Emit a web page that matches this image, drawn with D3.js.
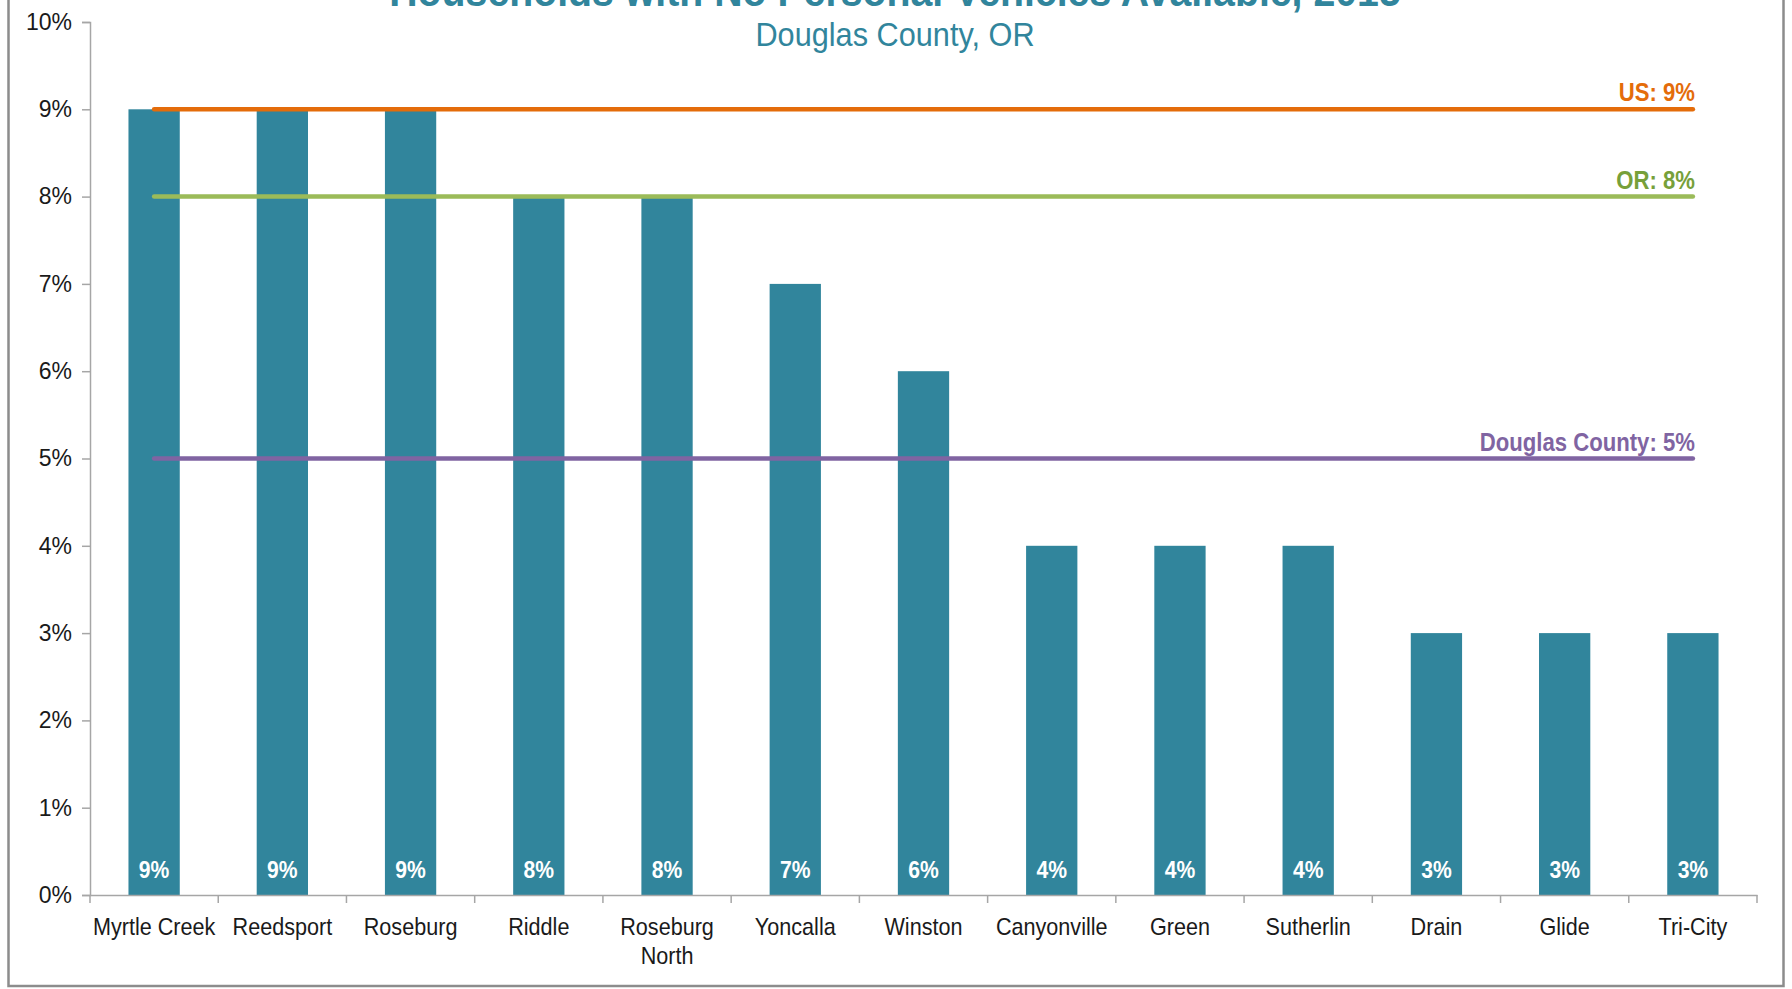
<!DOCTYPE html>
<html>
<head>
<meta charset="utf-8">
<script src="https://cdn.jsdelivr.net/npm/d3@7"></script>
<style>
  html, body { margin: 0; padding: 0; background: #fff; }
  svg { display: block; }
</style>
</head>
<body>
<svg id="chart" width="1792" height="989"></svg>
<script>
const categories = ["Myrtle Creek", "Reedsport", "Roseburg", "Riddle", "Roseburg North", "Yoncalla", "Winston", "Canyonville", "Green", "Sutherlin", "Drain", "Glide", "Tri-City"];
const values = [9, 9, 9, 8, 8, 7, 6, 4, 4, 4, 3, 3, 3];
const refNames = ["US", "OR", "Douglas County"];
const refValues = [9, 8, 5];
const refColors = ["#E46C0A", "#9BBB59", "#8064A2"];
const refLabelColors = ["#E46C0A", "#77A03A", "#8064A2"];
const yTicks = [0, 1, 2, 3, 4, 5, 6, 7, 8, 9, 10];
const titleText = "Households with No Personal Vehicles Available, 2015";
const subtitleText = "Douglas County, OR";

const arial = "'Liberation Sans', Arial, sans-serif";
const barColor = "#31859C";

const svg = d3.select("#chart");

// helper: narrow text (Liberation Sans squeezed horizontally)
function narrowText(parent, cx, cy, str, opts) {
  return parent.append("text")
    .attr("transform", `translate(${cx},${cy}) scale(${opts.sx || 0.9},1)`)
    .attr("x", 0).attr("y", 0)
    .attr("text-anchor", opts.anchor || "middle")
    .attr("font-family", arial)
    .attr("font-size", opts.size)
    .attr("font-weight", opts.weight || "normal")
    .attr("fill", opts.fill)
    .text(str);
}

// frame
svg.append("rect")
  .attr("x", 8.5).attr("y", -20).attr("width", 1775).attr("height", 1006)
  .attr("fill", "none").attr("stroke", "#8c8c8c").attr("stroke-width", 2.5);

const x = d3.scaleBand().domain(categories).range([90, 1757]).padding(0);
const y = d3.scaleLinear().domain([0, 10]).range([895, 22]);
const barW = x.bandwidth() * 0.40;

// title (cut off at the top as in the reference)
narrowText(svg, 895, 6, titleText, { size: 42, sx: 0.935, weight: "bold", fill: barColor });
narrowText(svg, 895, 46, subtitleText, { size: 33, sx: 0.93, fill: barColor });

// y axis
const yAxis = svg.append("g")
  .attr("transform", "translate(90,0)")
  .call(d3.axisLeft(y).tickValues(yTicks).tickFormat(d => d + "%").tickSize(8).tickPadding(10));
yAxis.select(".domain").attr("stroke", "#a6a6a6").attr("stroke-width", 1.5);
yAxis.selectAll(".tick line").attr("stroke", "#a6a6a6").attr("stroke-width", 1.5);
yAxis.selectAll(".tick text")
  .attr("font-family", arial).attr("font-size", 23).attr("fill", "#1a1a1a");

// bars
svg.append("g").selectAll("rect")
  .data(categories)
  .join("rect")
  .attr("x", (d) => x(d) + x.bandwidth() / 2 - barW / 2)
  .attr("y", (d, i) => y(values[i]))
  .attr("width", barW)
  .attr("height", (d, i) => y(0) - y(values[i]))
  .attr("fill", barColor);

// x axis
const xAxis = svg.append("g")
  .attr("transform", "translate(0,895)")
  .call(d3.axisBottom(x).tickSize(0).tickFormat(""));
xAxis.select(".domain").attr("stroke", "#a6a6a6").attr("stroke-width", 1.5);
xAxis.selectAll(".tick").remove();

// boundary ticks
const bounds = categories.map(c => x(c)).concat([x.range()[1]]);
svg.append("g").selectAll("line")
  .data(bounds)
  .join("line")
  .attr("x1", d => d).attr("x2", d => d)
  .attr("y1", 895).attr("y2", 903)
  .attr("stroke", "#a6a6a6").attr("stroke-width", 1.5);

// category labels
const catG = svg.append("g");
categories.forEach(d => {
  const cx = x(d) + x.bandwidth() / 2;
  const o = { size: 24, sx: 0.9, fill: "#1a1a1a" };
  if (d === "Roseburg North") {
    narrowText(catG, cx, 935, "Roseburg", o);
    narrowText(catG, cx, 964, "North", o);
  } else {
    narrowText(catG, cx, 935, d, o);
  }
});

// value labels
const valG = svg.append("g");
categories.forEach((d, i) => {
  narrowText(valG, x(d) + x.bandwidth() / 2, 878, values[i] + "%", { size: 24, sx: 0.88, weight: "bold", fill: "#ffffff" });
});

// reference lines
const lx1 = x(categories[0]) + x.bandwidth() / 2;
const lx2 = x(categories[categories.length - 1]) + x.bandwidth() / 2;
const refs = svg.append("g");
refNames.forEach((name, i) => {
  refs.append("line")
    .attr("x1", lx1).attr("x2", lx2)
    .attr("y1", y(refValues[i])).attr("y2", y(refValues[i]))
    .attr("stroke", refColors[i]).attr("stroke-width", 4.5)
    .attr("stroke-linecap", "round");
  narrowText(refs, lx2 + 2, y(refValues[i]) - 8, name + ": " + refValues[i] + "%",
    { size: 25, sx: 0.885, weight: "bold", fill: refLabelColors[i], anchor: "end" });
});
</script>
</body>
</html>
